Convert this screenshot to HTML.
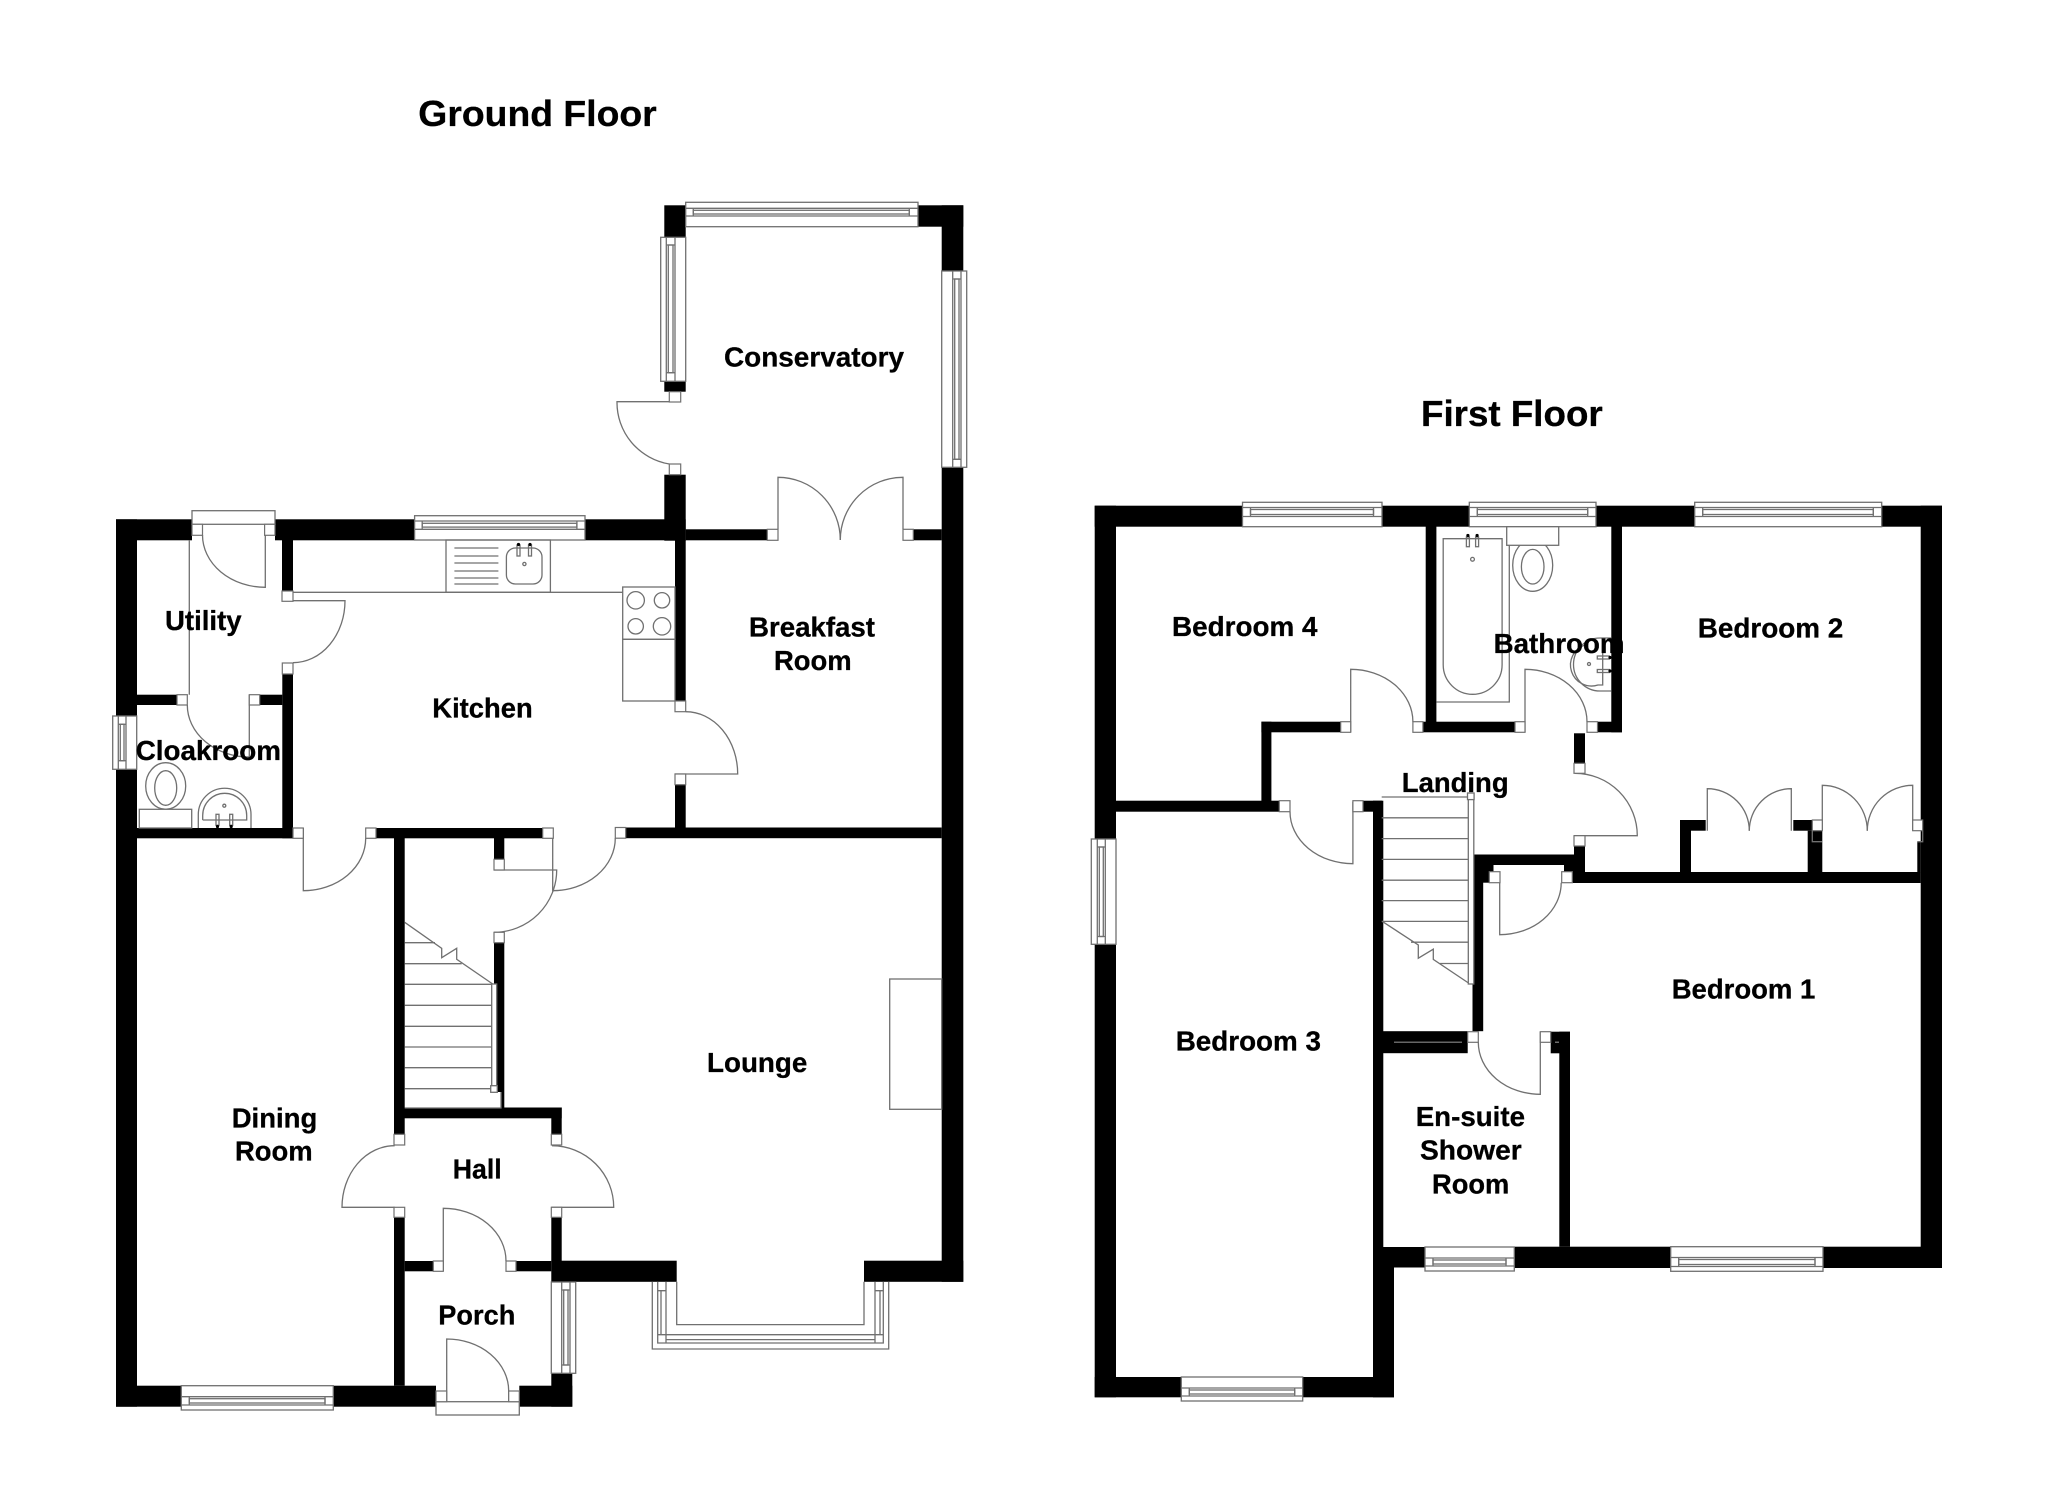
<!DOCTYPE html>
<html>
<head>
<meta charset="utf-8">
<style>
html,body{margin:0;padding:0;background:#fff;width:2048px;height:1489px;overflow:hidden}
svg{display:block}
.w{fill:#000}
.j{fill:#fff;stroke:#707070;stroke-width:1.2}
.l{fill:none;stroke:#707070;stroke-width:1.3}
.o{fill:#fff;stroke:#707070;stroke-width:1.3}
text{font-family:"Liberation Sans",Arial,sans-serif;font-weight:700;font-size:28px;fill:#000;stroke:#000;stroke-width:.3}
text.t{font-size:36px}
</style>
</head>
<body>
<svg width="2048" height="1489" viewBox="0 0 2048 1489" xmlns="http://www.w3.org/2000/svg">
<rect width="2048" height="1489" fill="#fff"/>

<!-- GROUND FLOOR WALLS -->
<g class="w">
<rect x="116" y="519.3" width="21" height="887.4"/>
<rect x="116" y="519.3" width="76" height="21"/>
<rect x="275" y="519.3" width="139.6" height="21"/>
<rect x="585" y="519.3" width="100.7" height="21"/>
<rect x="664.3" y="474.7" width="21.4" height="66"/>
<rect x="675" y="540" width="10.7" height="161"/>
<rect x="675" y="784.7" width="10.7" height="44"/>
<rect x="664.3" y="205.3" width="21.4" height="32"/>
<rect x="664.3" y="381.3" width="21.4" height="10.4"/>
<rect x="918" y="205.3" width="45.3" height="21.4"/>
<rect x="941.7" y="205.3" width="21.6" height="65.7"/>
<rect x="941.7" y="467.3" width="21.6" height="814.5"/>
<rect x="685.7" y="529.3" width="81.6" height="11"/>
<rect x="913.3" y="529.3" width="28.4" height="11"/>
<rect x="282" y="540" width="11" height="51"/>
<rect x="282.3" y="674" width="10.7" height="164.3"/>
<rect x="137" y="694.7" width="40" height="10.3"/>
<rect x="259.7" y="694.7" width="22.6" height="10.3"/>
<rect x="137" y="828" width="156" height="10.3"/>
<rect x="376" y="828" width="166.7" height="10.3"/>
<rect x="625.7" y="827.5" width="316" height="10.7"/>
<rect x="394" y="838" width="10.7" height="296.3"/>
<rect x="394" y="1217.3" width="10.7" height="168.4"/>
<rect x="494" y="838" width="10.3" height="21.3"/>
<rect x="494" y="942.7" width="10.3" height="165"/>
<rect x="404" y="1107.5" width="157.7" height="10.8"/>
<rect x="551.3" y="1107.5" width="10.4" height="26.8"/>
<rect x="551.3" y="1217.3" width="10.4" height="44"/>
<rect x="404.7" y="1261" width="28.6" height="10.3"/>
<rect x="516" y="1261" width="35.3" height="10.3"/>
<rect x="551.3" y="1260.7" width="125.4" height="21.1"/>
<rect x="864" y="1260.7" width="99.3" height="21.1"/>
<rect x="116" y="1385.7" width="65.3" height="21"/>
<rect x="333.3" y="1385.7" width="102.7" height="21"/>
<rect x="519.3" y="1385.7" width="53" height="21"/>
<rect x="551.3" y="1373.3" width="21" height="33.4"/>
</g>

<!-- FIRST FLOOR WALLS -->
<g class="w">
<rect x="1094.7" y="505.7" width="147.8" height="21"/>
<rect x="1382" y="505.7" width="87.3" height="21"/>
<rect x="1596" y="505.7" width="98.7" height="21"/>
<rect x="1881.7" y="505.7" width="60.3" height="21"/>
<rect x="1094.7" y="505.7" width="21.3" height="333.3"/>
<rect x="1094.7" y="944.3" width="21.3" height="453"/>
<rect x="1920.7" y="505.7" width="21.3" height="762.3"/>
<rect x="1094.7" y="1377" width="86.6" height="20.3"/>
<rect x="1302.7" y="1377" width="91.3" height="20.3"/>
<rect x="1373" y="1247" width="21" height="150.3"/>
<rect x="1373" y="800.7" width="10.3" height="446.3"/>
<rect x="1363" y="800.7" width="19" height="11"/>
<rect x="1116" y="800.7" width="163.3" height="11"/>
<rect x="1261.4" y="721.7" width="10" height="89"/>
<rect x="1261.4" y="721.7" width="79.3" height="10.6"/>
<rect x="1425.7" y="526" width="10.7" height="206"/>
<rect x="1423" y="721.7" width="92" height="10.6"/>
<rect x="1597.5" y="721.7" width="24.5" height="10.6"/>
<rect x="1611.3" y="526" width="10.7" height="206.3"/>
<rect x="1383" y="1031.2" width="84.7" height="22"/>
<rect x="1472.5" y="854.5" width="10.7" height="176.7"/>
<rect x="1472.5" y="854.5" width="102.5" height="10.5"/>
<rect x="1472.5" y="865" width="21" height="7"/>
<rect x="1472.5" y="871.7" width="17" height="11"/>
<rect x="1564" y="864.7" width="21" height="7.6"/>
<rect x="1574" y="733.3" width="11" height="30"/>
<rect x="1574" y="846" width="11" height="26"/>
<rect x="1572.3" y="872" width="348.4" height="11"/>
<rect x="1680" y="820" width="11" height="52.3"/>
<rect x="1680" y="820" width="25.7" height="10.7"/>
<rect x="1793.3" y="820" width="19" height="10.7"/>
<rect x="1807.7" y="830.7" width="14.6" height="41.6"/>
<rect x="1917.3" y="841.7" width="3.4" height="30.6"/>
<rect x="1550.7" y="1031.7" width="19.3" height="21.6"/>
<rect x="1559.3" y="1031.7" width="10.7" height="215"/>
<rect x="1373" y="1247" width="52" height="20.5"/>
<rect x="1514.3" y="1246.7" width="156.4" height="21.3"/>
<rect x="1823" y="1246.7" width="119" height="21.3"/>
</g>
<path d="M1394,1042.2H1462" stroke="#888" stroke-width="1.2" fill="none"/>
<path d="M1555,1042.2H1559" stroke="#888" stroke-width="1.2" fill="none"/>

<!-- WINDOWS -->
<g>
<rect class="o" x="414.6" y="515.7" width="170.4" height="24.3"/>
<path class="l" d="M414.6,521H585M414.6,529.3H585M422.2,521V529.3M576.9,521V529.3"/>
<rect class="l" x="422.2" y="523.3" width="154.7" height="3.8"/>
<rect class="o" x="685.7" y="202.3" width="232.3" height="24.4"/>
<path class="l" d="M685.7,208.3H918M685.7,216H918M693.3,208.3V216M909.3,208.3V216"/>
<rect class="l" x="693.3" y="210.3" width="216" height="3.7"/>
<rect class="o" x="660.7" y="237.3" width="25" height="144"/>
<path class="l" d="M666.3,237.3V381.3M675,237.3V381.3M666.3,245H675M666.3,372.7H675"/>
<rect class="l" x="668.3" y="245" width="4.7" height="127.7"/>
<rect class="o" x="941.7" y="271" width="25" height="196.3"/>
<path class="l" d="M952.7,271V467.3M961,271V467.3M952.7,279H961M952.7,459.3H961"/>
<rect class="l" x="954.7" y="279" width="4.3" height="180.3"/>
<rect class="o" x="112.7" y="716" width="24" height="53.3"/>
<path class="l" d="M118.3,716V769.3M126,716V769.3M118.3,724.3H126M118.3,760.7H126"/>
<rect class="l" x="120.3" y="724.3" width="3.7" height="36.4"/>
<rect class="o" x="181.3" y="1385.7" width="152" height="24.3"/>
<path class="l" d="M181.3,1396.7H333.3M181.3,1405H333.3M189.3,1396.7V1405M325,1396.7V1405"/>
<rect class="l" x="189.3" y="1398.7" width="135.7" height="4.3"/>
<rect class="o" x="551.3" y="1282" width="24.4" height="91.3"/>
<path class="l" d="M561.7,1282V1373.3M570,1282V1373.3M561.7,1290H570M561.7,1365H570"/>
<rect class="l" x="563.7" y="1290" width="4.3" height="75"/>
<path class="l" d="M652.3,1281.8V1349H888.7V1281.8M657.7,1281.8V1343H883.3V1281.8M666,1281.8V1334.7H875V1281.8M676.7,1281.8V1324.6H864V1281.8M657.7,1290.7H666M875,1290.7H883.3M657.7,1334.7H666M875,1334.7H883.3M666,1334.7V1343M875,1334.7V1343M666,1339.6H875M661,1290.7V1334.7M880,1290.7V1334.7"/>
<rect class="o" x="1242.5" y="502.3" width="139.5" height="24.4"/>
<path class="l" d="M1242.5,507.5H1382M1242.5,516.5H1382M1250.5,507.5V516.5M1373.5,507.5V516.5"/>
<rect class="l" x="1250.5" y="509.5" width="123" height="5"/>
<rect class="o" x="1469.3" y="502.3" width="126.7" height="24.4"/>
<path class="l" d="M1469.3,507.5H1596M1469.3,516.5H1596M1477.3,507.5V516.5M1587.7,507.5V516.5"/>
<rect class="l" x="1477.3" y="509.5" width="110.4" height="5"/>
<rect class="o" x="1694.7" y="502.3" width="187" height="24.4"/>
<path class="l" d="M1694.7,507.5H1881.7M1694.7,516.5H1881.7M1702.7,507.5V516.5M1873.3,507.5V516.5"/>
<rect class="l" x="1702.7" y="509.5" width="170.6" height="5"/>
<rect class="o" x="1091.3" y="839" width="24.7" height="105.3"/>
<path class="l" d="M1097.3,839V944.3M1105.3,839V944.3M1097.3,847H1105.3M1097.3,936.5H1105.3"/>
<rect class="l" x="1099.3" y="847" width="4" height="89.5"/>
<rect class="o" x="1181.3" y="1377" width="121.4" height="24"/>
<path class="l" d="M1181.3,1388H1302.7M1181.3,1396H1302.7M1189.3,1388V1396M1294.7,1388V1396"/>
<rect class="l" x="1189.3" y="1390" width="105.4" height="4"/>
<rect class="o" x="1425" y="1247" width="89.3" height="24"/>
<path class="l" d="M1425,1258H1514.3M1425,1266H1514.3M1433,1258V1266M1506,1258V1266"/>
<rect class="l" x="1433" y="1260" width="73" height="4"/>
<rect class="o" x="1670.7" y="1246.7" width="152.3" height="24.6"/>
<path class="l" d="M1670.7,1257.5H1823M1670.7,1266.5H1823M1678.7,1257.5V1266.5M1815,1257.5V1266.5"/>
<rect class="l" x="1678.7" y="1259.5" width="136.3" height="5"/>
<rect class="o" x="192" y="510.7" width="83" height="13.6"/>
<rect class="o" x="436" y="1401.7" width="83.3" height="13.3"/>
</g>

<!-- KITCHEN AND CLOAKROOM FIXTURES -->
<g class="l">
<path d="M293,592.3H622.7"/>
<path d="M189.3,540V694.7"/>
<rect x="446" y="540" width="104.4" height="52.3"/>
<path d="M454.4,548H498.4M454.4,556H498.4M454.4,563H498.4M454.4,571H498.4M454.4,578H498.4M454.4,584H498.4"/>
<rect x="506.4" y="548" width="35.6" height="36" rx="9"/>
<circle cx="524.4" cy="564" r="1.6"/>
<rect x="517" y="545" width="3" height="11"/>
<rect x="528.5" y="545" width="3" height="11"/>
<rect x="622.7" y="587" width="52.3" height="52.3"/>
<rect x="622.7" y="639.3" width="52.3" height="61.7"/>
<circle cx="635.7" cy="600.3" r="8.7"/>
<circle cx="662" cy="600.3" r="7.7"/>
<circle cx="635.7" cy="626.3" r="7.7"/>
<circle cx="662" cy="626.3" r="8.7"/>
<rect x="889.7" y="979" width="52" height="130.3"/>
<ellipse cx="165.7" cy="786" rx="20" ry="23.3"/>
<ellipse cx="165.7" cy="788" rx="11" ry="17.3"/>
<rect class="o" x="139.3" y="809.3" width="52.4" height="18.7"/>
<path d="M198.3,828V814.5A26.3,26.2 0 0 1 251,814.5V828"/>
<path d="M202.7,820V815.5A22,22.2 0 0 1 246.7,815.5V820H202.7"/>
<circle cx="224.3" cy="805.7" r="1.5"/>
<rect x="216" y="814.3" width="3" height="11"/>
<rect x="229.7" y="814.3" width="3" height="11"/>
</g>
<circle cx="217.5" cy="826.5" r="1.6" fill="#000"/>
<circle cx="231.2" cy="826.5" r="1.6" fill="#000"/>
<circle cx="518.5" cy="544.5" r="1.6" fill="#000"/>
<circle cx="530" cy="544.5" r="1.6" fill="#000"/>

<!-- STAIRS GROUND -->
<rect x="491.7" y="1092" width="9.3" height="15.7" fill="#fff"/>
<path class="l" d="M404.7,942.7H435M404.7,963.7H461.7M404.7,984.3H491.7M404.7,1005.3H491.7M404.7,1026.3H491.7M404.7,1047H491.7M404.7,1067.7H491.7M404.7,1088.7H491.7M404.7,1108H501V1092"/>
<path class="l" d="M404.7,922.3L441.7,948.3V957.7L456.7,948.3V959.3L492.7,984"/>
<rect class="o" x="491.7" y="984" width="5" height="104"/>
<rect class="o" x="490.7" y="1085.7" width="6.6" height="6.6"/>

<!-- STAIRS FIRST -->
<path class="l" d="M1381.7,797H1468.3M1381.7,817.8H1468.3M1381.7,838.6H1468.3M1381.7,859.4H1468.3M1381.7,880.2H1468.3M1381.7,900.6H1468.3M1381.7,921.4H1468.3M1411,942.2H1468.3M1440,963.5H1468.3"/>
<path class="l" d="M1382.3,921.4L1418.3,945V958.2L1433.3,949.2V959.4L1470,984"/>
<rect class="o" x="1468.3" y="797" width="5.5" height="187"/>
<rect class="o" x="1467.5" y="793" width="6.6" height="6.6"/>

<!-- BATHROOM -->
<g class="l">
<path d="M1436.4,702H1509.3V526.7"/>
<path d="M1443.2,538.7H1502.1V664.8A29.45,29.5 0 0 1 1443.2,664.8Z"/>
<circle cx="1472.5" cy="559.3" r="1.9"/>
<rect x="1466.4" y="537" width="3" height="9.7"/>
<rect x="1475.6" y="537" width="3" height="9.7"/>
<ellipse cx="1532.7" cy="565.3" rx="20" ry="26"/>
<ellipse cx="1532.7" cy="566.7" rx="11.3" ry="17.3"/>
<rect class="o" x="1506.7" y="526.7" width="52" height="18.6"/>
<path d="M1611.3,691H1600A26.5,26.5 0 0 1 1600,638H1611.3"/>
<path d="M1602.7,650V685H1598A21,21 0 0 1 1585,645"/>
<circle cx="1589" cy="664" r="1.5"/>
<rect x="1597.3" y="656" width="12" height="3"/>
<rect x="1597.3" y="669.5" width="12" height="3"/>
</g>
<circle cx="1610" cy="657.5" r="1.6" fill="#000"/>
<circle cx="1610" cy="671" r="1.6" fill="#000"/>
<circle cx="1467.9" cy="535.5" r="1.6" fill="#000"/>
<circle cx="1477.1" cy="535.5" r="1.6" fill="#000"/>

<!-- DOORS -->
<g class="l">
<path d="M265.3,524V587.3A62.8,52.3 0 0 1 202.5,535"/>
<path d="M293,600.7H345A52,62 0 0 1 293,662.7"/>
<path d="M680.7,401.7H617A63,62.3 0 0 0 669.3,464"/>
<path d="M778,529.3V477.3A62.3,62.7 0 0 1 840.3,540"/>
<path d="M903,529.3V477.3A62.7,62.7 0 0 0 840.3,540"/>
<path d="M674.7,774H737.7A52,62.3 0 0 0 685.7,711.7"/>
<path d="M249.3,694.7V757A62,52 0 0 1 187.3,705"/>
<path d="M303.3,828V890.7A62.4,52.4 0 0 0 365.7,838.3"/>
<path d="M552.7,828V890.7A62.6,52.7 0 0 0 615.3,838"/>
<path d="M494,870H556.7A62.7,62.3 0 0 1 494,932.3"/>
<path d="M394.7,1207.3H342A52.7,61.6 0 0 1 394.7,1145.7"/>
<path d="M551.3,1207.3H613.7A62,61.5 0 0 0 552,1145.7"/>
<path d="M443.3,1271V1208.3A62.7,52.7 0 0 1 506,1261"/>
<path d="M446.7,1401.7V1339A62,52 0 0 1 508.7,1391V1401.7"/>
<path d="M1350.7,732.3V669.3A62.2,52.4 0 0 1 1412.9,721.7"/>
<path d="M1525,732.3V669.3A62,52.4 0 0 1 1587,721.7"/>
<path d="M1352.9,801.7V863.7A62.9,52 0 0 1 1290,811.7"/>
<path d="M1574,835.7H1637.3A62.3,62.4 0 0 0 1575,773.3"/>
<path d="M1499.7,871.7V934.7A61.5,52 0 0 0 1561.2,882.7"/>
<path d="M1540.3,1031.7V1094.3A62,52 0 0 1 1478.3,1042.3"/>
<path d="M1707.3,830.7V788.7A42,42 0 0 1 1749.3,830.7"/>
<path d="M1791.3,830.7V788.7A42,42 0 0 0 1749.3,830.7"/>
<path d="M1822.3,830.7V785.3A45,45.4 0 0 1 1867.3,830.7"/>
<path d="M1912.7,830.7V785.3A45.4,45.4 0 0 0 1867.3,830.7"/>
<path d="M1812.3,830.7V841.7H1822.3M1917.3,841.7H1922.7V830.7"/>
</g>

<!-- JAMBS -->
<g class="j">
<rect x="192" y="524.3" width="10.5" height="11"/>
<rect x="264.6" y="524.3" width="10.4" height="11"/>
<rect x="282" y="591" width="11" height="10.3"/>
<rect x="282.3" y="663" width="10.7" height="11"/>
<rect x="669.3" y="391.7" width="11.4" height="10.3"/>
<rect x="669.3" y="464" width="11.4" height="10.7"/>
<rect x="767.3" y="529.3" width="10.7" height="11"/>
<rect x="903" y="529.3" width="10.3" height="11"/>
<rect x="675" y="701" width="10.7" height="10.7"/>
<rect x="675" y="774" width="10.7" height="10.7"/>
<rect x="177" y="694.7" width="10.3" height="10.3"/>
<rect x="249.3" y="694.7" width="10.4" height="10.3"/>
<rect x="293" y="828" width="10.3" height="10.3"/>
<rect x="365.7" y="828" width="10.3" height="10.3"/>
<rect x="542.7" y="828" width="10.6" height="10.3"/>
<rect x="615.3" y="827.5" width="10.4" height="10.7"/>
<rect x="494" y="859.3" width="10.3" height="10.7"/>
<rect x="494" y="932.3" width="10.3" height="10.4"/>
<rect x="394" y="1134.3" width="10.7" height="10.7"/>
<rect x="394" y="1207.3" width="10.7" height="10"/>
<rect x="551.3" y="1134.3" width="10.4" height="10.7"/>
<rect x="551.3" y="1207.3" width="10.4" height="10"/>
<rect x="433.3" y="1261" width="10" height="10.3"/>
<rect x="506" y="1261" width="10" height="10.3"/>
<rect x="436" y="1391" width="10.7" height="10.7"/>
<rect x="508.7" y="1391" width="10.6" height="10.7"/>
<rect x="1340.7" y="721.7" width="10" height="10.6"/>
<rect x="1412.9" y="721.7" width="10" height="10.6"/>
<rect x="1515" y="721.7" width="10" height="10.6"/>
<rect x="1587" y="721.7" width="10.5" height="10.6"/>
<rect x="1279.3" y="800.7" width="10.7" height="11"/>
<rect x="1352.9" y="800.7" width="10.1" height="11"/>
<rect x="1574" y="763.3" width="11" height="10"/>
<rect x="1574" y="835.7" width="11" height="10.3"/>
<rect x="1489.3" y="871.7" width="10.7" height="11"/>
<rect x="1561.7" y="871.7" width="10.6" height="11"/>
<rect x="1467.7" y="1031.7" width="10.6" height="10.6"/>
<rect x="1540.3" y="1031.7" width="10.4" height="10.6"/>
<rect x="1812.3" y="820" width="10" height="10.7"/>
<rect x="1912.7" y="820" width="10" height="10.7"/>
</g>

<!-- LABELS -->
<text class="t" x="418.3" y="126" textLength="238.4" lengthAdjust="spacingAndGlyphs">Ground Floor</text>
<text class="t" x="1421" y="426" textLength="181.7" lengthAdjust="spacingAndGlyphs">First Floor</text>
<text x="724" y="366.7" textLength="180" lengthAdjust="spacingAndGlyphs">Conservatory</text>
<text x="749" y="636.7" textLength="126" lengthAdjust="spacingAndGlyphs">Breakfast</text>
<text x="774" y="670" textLength="77.7" lengthAdjust="spacingAndGlyphs">Room</text>
<text x="165" y="630" textLength="76.6" lengthAdjust="spacingAndGlyphs">Utility</text>
<text x="432.3" y="717.3" textLength="100.4" lengthAdjust="spacingAndGlyphs">Kitchen</text>
<text x="135.7" y="760" textLength="145.3" lengthAdjust="spacingAndGlyphs">Cloakroom</text>
<text x="231.7" y="1127.3" textLength="85.6" lengthAdjust="spacingAndGlyphs">Dining</text>
<text x="235" y="1160.7" textLength="77.7" lengthAdjust="spacingAndGlyphs">Room</text>
<text x="452.7" y="1178.3" textLength="49" lengthAdjust="spacingAndGlyphs">Hall</text>
<text x="438.3" y="1324.7" textLength="77" lengthAdjust="spacingAndGlyphs">Porch</text>
<text x="707" y="1071.8" textLength="100.3" lengthAdjust="spacingAndGlyphs">Lounge</text>
<text x="1172" y="636" textLength="145.5" lengthAdjust="spacingAndGlyphs">Bedroom 4</text>
<text x="1493.6" y="653" textLength="131" lengthAdjust="spacingAndGlyphs">Bathroom</text>
<text x="1401.8" y="792" textLength="106.8" lengthAdjust="spacingAndGlyphs">Landing</text>
<text x="1697.7" y="637.3" textLength="145.6" lengthAdjust="spacingAndGlyphs">Bedroom 2</text>
<text x="1671.7" y="998.3" textLength="143.6" lengthAdjust="spacingAndGlyphs">Bedroom 1</text>
<text x="1175.7" y="1050.4" textLength="145.3" lengthAdjust="spacingAndGlyphs">Bedroom 3</text>
<text x="1415.7" y="1126" textLength="109.3" lengthAdjust="spacingAndGlyphs">En-suite</text>
<text x="1420" y="1159.4" textLength="101.7" lengthAdjust="spacingAndGlyphs">Shower</text>
<text x="1432" y="1193.3" textLength="77.3" lengthAdjust="spacingAndGlyphs">Room</text>
</svg>
</body>
</html>
